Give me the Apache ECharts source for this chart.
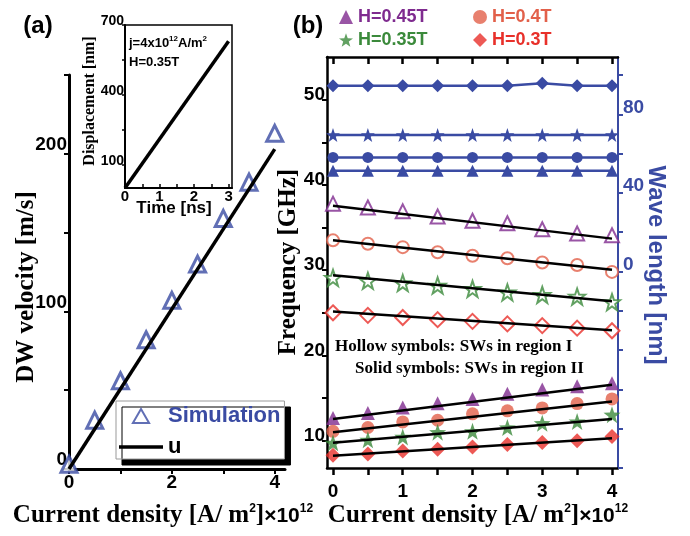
<!DOCTYPE html>
<html>
<head>
<meta charset="utf-8">
<script src="https://cdn.jsdelivr.net/npm/echarts@6/dist/echarts.min.js"></script>
<style>
html, body { margin: 0; padding: 0; background: #fff; }
#main { width: 690px; height: 536px; }
</style>
</head>
<body>
<div id="main"></div>
<script>
// panel (a): DW velocity vs current density
var currentA = [0, 0.5, 1, 1.5, 2, 2.5, 3, 3.5, 4];
var simVelocity = [3, 31, 56, 82, 107, 130, 159, 182, 213];
var uCurrent = [0, 4];
var uVelocity = [0, 203];
// inset: displacement vs time
var insetTime = [0, 3];
var insetDisp = [0, 630];

// panel (b): frequency (left axis) and wave length (right axis)
var currentB = [0, 0.5, 1, 1.5, 2, 2.5, 3, 3.5, 4];
var hollowTri  = [37.8, 37.35, 36.9, 36.3, 35.8, 35.5, 34.8, 34.3, 34.1];
var hollowCirc = [33.5, 33.1, 32.7, 32.1, 31.7, 31.4, 30.9, 30.6, 29.8];
var hollowStar = [29.1, 28.75, 28.5, 28.2, 27.8, 27.4, 27.1, 26.9, 26.25];
var hollowDiam = [25.0, 24.7, 24.45, 24.2, 24.0, 23.7, 23.5, 23.2, 22.9];
var solidTri   = [12.65, 13.25, 13.9, 14.4, 14.9, 15.5, 16.0, 16.4, 16.75];
var solidCirc  = [11.1, 11.55, 12.2, 12.4, 13.15, 13.5, 13.85, 14.35, 14.9];
var solidStar  = [9.75, 10.1, 10.45, 11.0, 11.1, 11.55, 12.05, 12.25, 13.05];
var solidDiam  = [8.3, 8.45, 8.8, 9.0, 9.25, 9.55, 9.8, 10.0, 10.5];
var fitCurrent = [0, 4];
var fitHollowTri  = [37.55, 33.7];
var fitHollowCirc = [33.5, 30.05];
var fitHollowStar = [29.4, 26.35];
var fitHollowDiam = [25.15, 22.95];
var fitSolidTri   = [12.55, 16.55];
var fitSolidCirc  = [11.0, 14.6];
var fitSolidStar  = [9.75, 12.55];
var fitSolidDiam  = [8.25, 10.3];
var waveDiam = [94.6, 94.6, 94.6, 94.6, 94.6, 94.6, 95.8, 94.6, 94.6];
var waveStar = [69.5, 69.5, 69.5, 69.5, 69.5, 69.5, 69.5, 69.5, 69.5];
var waveCirc = [58.1, 58.1, 58.1, 58.1, 58.1, 58.1, 58.1, 58.1, 58.1];
var waveTri  = [51.3, 51.3, 51.3, 51.3, 51.3, 51.3, 51.3, 51.3, 51.3];

// ticks and labels
var ticksAx = [0, 1, 2, 3, 4];
var labelsAx = [0, 2, 4];
var ticksAy = [0, 50, 100, 150, 200, 250];
var labelsAy = [0, 100, 200];
var ticksInsetX = [0, 0.5, 1, 1.5, 2, 2.5, 3];
var labelsInsetX = [0, 1, 2, 3];
var ticksInsetY = [100, 250, 400, 550, 700];
var labelsInsetY = [100, 400, 700];
var ticksBx = [0, 0.5, 1, 1.5, 2, 2.5, 3, 3.5, 4];
var labelsBx = [0, 1, 2, 3, 4];
var ticksBy = [10, 15, 20, 25, 30, 35, 40, 45, 50];
var labelsBy = [10, 20, 30, 40, 50];
var ticksBr = [-100, -80, -60, -40, -20, 0, 20, 40, 60, 80, 100];
var labelsBr = [0, 40, 80];

var BLUE = '#3a4ba3', PURPLE = '#7f2b8f', ORANGE = '#e2604a', GREEN = '#3b8a3b', RED = '#e8302a';
var SANS = 'Liberation Sans, Arial, sans-serif';
var SERIF = 'Liberation Serif, Times New Roman, serif';
var STAR = 'path://M0,-10 L2.35,-3.24 L9.51,-3.09 L3.8,1.24 L5.88,8.09 L0,4 L-5.88,8.09 L-3.8,1.24 L-9.51,-3.09 L-2.35,-3.24 Z';
var TRI_ICON = 'path://M0,-10 L8.66,5 L-8.66,5 Z';
var LINE_ICON = 'path://M0,0 L44,0 L44,3.5 L0,3.5 Z';

function pairs(xs, ys) {
    return xs.map(function (x, i) { return [x, ys[i]]; });
}

var myChart = echarts.init(document.getElementById('main'));

function hollow(name, ys, symbol, size, color) {
    return {
        name: name, type: 'scatter', xAxisIndex: 2, yAxisIndex: 2,
        symbol: symbol, symbolSize: size, data: pairs(currentB, ys),
        itemStyle: { color: '#fff', borderColor: color, borderWidth: 2 }
    };
}
function solid(name, ys, symbol, size, color) {
    return {
        name: name, type: 'scatter', xAxisIndex: 2, yAxisIndex: 2,
        symbol: symbol, symbolSize: size, data: pairs(currentB, ys),
        itemStyle: { color: color }
    };
}
function fit(ys) {
    return {
        type: 'line', xAxisIndex: 2, yAxisIndex: 2, symbol: 'none',
        data: pairs(fitCurrent, ys), lineStyle: { color: '#000', width: 2.5 }, z: 3
    };
}
function wave(ys, symbol, size) {
    return {
        type: 'line', xAxisIndex: 2, yAxisIndex: 3, symbol: symbol, symbolSize: size,
        data: pairs(currentB, ys), itemStyle: { color: BLUE }, lineStyle: { color: BLUE, width: 2.5 }
    };
}

var option = {
    animation: false,
    grid: [
        { left: 69, top: 75, width: 216, height: 394 },
        { left: 125, top: 25, width: 107, height: 163, show: true, backgroundColor: '#fff', borderColor: '#000', borderWidth: 1.5, z: 5 },
        { left: 327, top: 57, width: 291, height: 411 }
    ],
    xAxis: [
        {
            gridIndex: 0, type: 'value', min: 0, max: 4.2,
            axisLine: { onZero: false, lineStyle: { color: '#000', width: 3 } },
            axisTick: { customValues: ticksAx, length: 5, lineStyle: { width: 2 } },
            axisLabel: { customValues: labelsAx, margin: 4, color: '#000', fontSize: 19, fontWeight: 'bold', fontFamily: SANS },
            splitLine: { show: false }
        },
        {
            gridIndex: 1, type: 'value', min: 0, max: 3.1, z: 6,
            axisLine: { onZero: false, lineStyle: { color: '#000', width: 2 } },
            axisTick: { customValues: ticksInsetX, inside: true, length: 4, lineStyle: { width: 1.5 } },
            axisLabel: { customValues: labelsInsetX, margin: 1, color: '#000', fontSize: 15, fontWeight: 'bold', fontFamily: SANS },
            splitLine: { show: false }
        },
        {
            gridIndex: 2, type: 'value', min: -0.086, max: 4.086,
            axisLine: { onZero: false, lineStyle: { color: '#000', width: 2.5 } },
            axisTick: { customValues: ticksBx, length: 7, lineStyle: { width: 2.5 } },
            axisLabel: { customValues: labelsBx, margin: 14, color: '#000', fontSize: 19, fontWeight: 'bold', fontFamily: SANS },
            splitLine: { show: false }
        },
        {
            gridIndex: 2, type: 'value', position: 'top', min: -0.086, max: 4.086,
            axisLine: { onZero: false, lineStyle: { color: '#000', width: 2.5 } },
            axisTick: { customValues: ticksBx, inside: true, length: 7, lineStyle: { width: 2.5 } },
            axisLabel: { show: false },
            splitLine: { show: false }
        }
    ],
    yAxis: [
        {
            gridIndex: 0, type: 'value', min: 0, max: 250,
            axisLine: { onZero: false, lineStyle: { color: '#000', width: 3 } },
            axisTick: { customValues: ticksAy, length: 5, lineStyle: { width: 2 } },
            axisLabel: { customValues: labelsAy, margin: 2, verticalAlign: 'bottom', lineHeight: 18, color: '#000', fontSize: 19, fontWeight: 'bold', fontFamily: SANS },
            splitLine: { show: false }
        },
        {
            gridIndex: 1, type: 'value', min: 0, max: 700, z: 6,
            axisLine: { onZero: false, lineStyle: { color: '#000', width: 2 } },
            axisTick: { customValues: ticksInsetY, length: 3, lineStyle: { width: 1.5 } },
            axisLabel: { customValues: labelsInsetY, margin: 1, verticalAlign: 'bottom', lineHeight: 8, color: '#000', fontSize: 14, fontWeight: 'bold', fontFamily: SANS },
            splitLine: { show: false }
        },
        {
            gridIndex: 2, type: 'value', min: 6.8, max: 55,
            axisLine: { onZero: false, lineStyle: { color: '#000', width: 2.5 } },
            axisTick: { customValues: ticksBy, length: 5, lineStyle: { width: 2 } },
            axisLabel: { customValues: labelsBy, margin: 2, verticalAlign: 'bottom', lineHeight: 10, color: '#000', fontSize: 19, fontWeight: 'bold', fontFamily: SANS },
            splitLine: { show: false }
        },
        {
            gridIndex: 2, type: 'value', position: 'right', min: -100, max: 109.2,
            axisLine: { onZero: false, lineStyle: { color: BLUE, width: 2 } },
            axisTick: { customValues: ticksBr, length: 5, lineStyle: { width: 2 } },
            axisLabel: { customValues: labelsBr, margin: 5, verticalAlign: 'bottom', lineHeight: 14, color: BLUE, fontSize: 19, fontWeight: 'bold', fontFamily: SANS },
            splitLine: { show: false }
        }
    ],
    legend: [
        {
            left: 116, top: 401, orient: 'vertical', selectedMode: false,
            itemWidth: 44, itemHeight: 14, itemGap: 9, padding: [4, 4, 1, 3],
            backgroundColor: '#fff', borderColor: '#999', borderWidth: 1,
            shadowColor: '#000', shadowBlur: 0, shadowOffsetX: 6, shadowOffsetY: 6,
            textStyle: { fontSize: 22, fontWeight: 'bold', fontFamily: SANS, lineHeight: 22 },
            data: [
                { name: 'Simulation', icon: TRI_ICON, textStyle: { color: BLUE } },
                { name: 'u', icon: LINE_ICON, textStyle: { color: '#000' } }
            ]
        },
        {
            left: 339, top: 8, orient: 'vertical', selectedMode: false,
            itemWidth: 14, itemHeight: 14, itemGap: 5, padding: 0,
            textStyle: { fontSize: 18, fontWeight: 'bold', fontFamily: SANS, lineHeight: 18 },
            data: [
                { name: 'H=0.45T', textStyle: { color: PURPLE } },
                { name: 'H=0.35T', textStyle: { color: GREEN } }
            ]
        },
        {
            left: 473, top: 8, orient: 'vertical', selectedMode: false,
            itemWidth: 14, itemHeight: 14, itemGap: 5, padding: 0,
            textStyle: { fontSize: 18, fontWeight: 'bold', fontFamily: SANS, lineHeight: 18 },
            data: [
                { name: 'H=0.4T', textStyle: { color: ORANGE } },
                { name: 'H=0.3T', textStyle: { color: RED } }
            ]
        }
    ],
    series: [
        {
            name: 'Simulation', type: 'scatter', xAxisIndex: 0, yAxisIndex: 0,
            symbol: 'triangle', symbolSize: 16, data: pairs(currentA, simVelocity),
            itemStyle: { color: '#fff', borderColor: BLUE, borderWidth: 3 }
        },
        {
            name: 'u', type: 'line', xAxisIndex: 0, yAxisIndex: 0, symbol: 'none',
            data: pairs(uCurrent, uVelocity), lineStyle: { color: '#000', width: 3.5 }, itemStyle: { color: '#000' }
        },
        {
            type: 'line', xAxisIndex: 1, yAxisIndex: 1, symbol: 'none', z: 7,
            data: pairs(insetTime, insetDisp), lineStyle: { color: '#000', width: 3.5 }
        },
        wave(waveDiam, 'diamond', 13),
        wave(waveStar, STAR, 14),
        wave(waveCirc, 'circle', 11),
        wave(waveTri, 'triangle', 12),
        hollow('H=0.45T I', hollowTri, 'triangle', 14, PURPLE),
        hollow('H=0.4T I', hollowCirc, 'circle', 12, ORANGE),
        hollow('H=0.35T I', hollowStar, STAR, 16, GREEN),
        hollow('H=0.3T I', hollowDiam, 'diamond', 15, RED),
        solid('H=0.45T', solidTri, 'triangle', 14, PURPLE),
        solid('H=0.4T', solidCirc, 'circle', 13, ORANGE),
        solid('H=0.35T', solidStar, STAR, 17, GREEN),
        solid('H=0.3T', solidDiam, 'diamond', 15, RED),
        fit(fitHollowTri), fit(fitHollowCirc), fit(fitHollowStar), fit(fitHollowDiam),
        fit(fitSolidTri), fit(fitSolidCirc), fit(fitSolidStar), fit(fitSolidDiam)
    ],
    graphic: [
        { type: 'text', x: 38, y: 26, style: { text: '(a)', align: 'center', verticalAlign: 'middle', fontSize: 24, fontWeight: 'bold', fontFamily: SANS, fill: '#000' } },
        { type: 'text', x: 308, y: 26, style: { text: '(b)', align: 'center', verticalAlign: 'middle', fontSize: 24, fontWeight: 'bold', fontFamily: SANS, fill: '#000' } },
        { type: 'text', x: 27, y: 287, rotation: Math.PI / 2, style: { text: 'DW velocity [m/s]', align: 'center', verticalAlign: 'middle', fontSize: 25, fontWeight: 'bold', fontFamily: SERIF, fill: '#000' } },
        { type: 'text', x: 289, y: 262, rotation: Math.PI / 2, style: { text: 'Frequency [GHz]', align: 'center', verticalAlign: 'middle', fontSize: 25, fontWeight: 'bold', fontFamily: SERIF, fill: '#000' } },
        { type: 'text', x: 656, y: 265, rotation: -Math.PI / 2, style: { text: 'Wave length [nm]', align: 'center', verticalAlign: 'middle', fontSize: 24, fontWeight: 'bold', fontFamily: SANS, fill: BLUE } },
        { type: 'text', x: 90, y: 101, rotation: Math.PI / 2, z: 10, style: { text: 'Displacement [nm]', align: 'center', verticalAlign: 'middle', fontSize: 16, fontWeight: 'bold', fontFamily: SERIF, fill: '#000' } },
        { type: 'text', x: 174, y: 208, z: 10, style: { text: 'Time [ns]', align: 'center', verticalAlign: 'middle', fontSize: 17, fontWeight: 'bold', fontFamily: SANS, fill: '#000' } },
        { type: 'text', x: 129, y: 43, z: 10, style: {
            text: '{a|j=4x10}{s|12}{a|A/m}{s|2}', align: 'left', verticalAlign: 'middle',
            rich: { a: { fontSize: 13, fontWeight: 'bold', fontFamily: SANS, fill: '#000' }, s: { fontSize: 8, fontWeight: 'bold', fontFamily: SANS, fill: '#000', padding: [0, 0, 9, 0] } } } },
        { type: 'text', x: 129, y: 62, z: 10, style: { text: 'H=0.35T', align: 'left', verticalAlign: 'middle', fontSize: 13, fontWeight: 'bold', fontFamily: SANS, fill: '#000' } },
        { type: 'text', x: 163, y: 516, style: {
            text: '{a|Current density [A/ m}{s|2}{a|]}{c|×10}{s|12}', align: 'center', verticalAlign: 'middle',
            rich: { a: { fontSize: 25, fontWeight: 'bold', fontFamily: SERIF, fill: '#000' }, c: { fontSize: 21, fontWeight: 'bold', fontFamily: SANS, fill: '#000' }, s: { fontSize: 12, fontWeight: 'bold', fontFamily: SANS, fill: '#000', padding: [0, 0, 14, 0] } } } },
        { type: 'text', x: 478, y: 516, style: {
            text: '{a|Current density [A/ m}{s|2}{a|]}{c|×10}{s|12}', align: 'center', verticalAlign: 'middle',
            rich: { a: { fontSize: 25, fontWeight: 'bold', fontFamily: SERIF, fill: '#000' }, c: { fontSize: 21, fontWeight: 'bold', fontFamily: SANS, fill: '#000' }, s: { fontSize: 12, fontWeight: 'bold', fontFamily: SANS, fill: '#000', padding: [0, 0, 14, 0] } } } },
        { type: 'text', x: 335, y: 347, style: { text: 'Hollow symbols: SWs in region I', align: 'left', verticalAlign: 'middle', fontSize: 17, fontWeight: 'bold', fontFamily: SERIF, fill: '#000' } },
        { type: 'text', x: 355, y: 369, style: { text: 'Solid symbols: SWs in region II', align: 'left', verticalAlign: 'middle', fontSize: 17, fontWeight: 'bold', fontFamily: SERIF, fill: '#000' } }
    ]
};

myChart.setOption(option);
</script>
</body>
</html>
